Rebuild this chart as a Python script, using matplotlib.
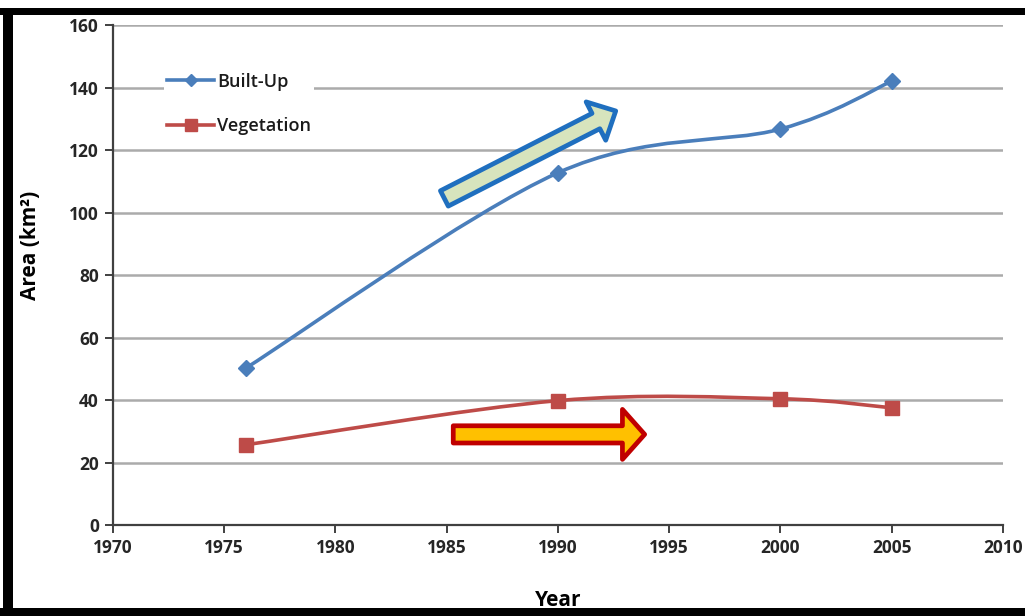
import matplotlib
matplotlib.use("Agg")
import matplotlib.pyplot as plt
import numpy as np
from matplotlib.path import Path
from matplotlib.patches import PathPatch, Rectangle
from matplotlib.lines import Line2D

plt.rcParams['font.family'] = ['Open Sans', 'DejaVu Sans']

years = [1976, 1990, 2000, 2005]
built_up = [50.3, 112.7, 126.7, 142.0]
vegetation = [25.7, 39.8, 40.4, 37.5]

x_ticks = [1970, 1975, 1980, 1985, 1990, 1995, 2000, 2005, 2010]
y_ticks = [0, 20, 40, 60, 80, 100, 120, 140, 160]

blue = '#4a7ebb'
red = '#be4b48'


def smooth_path(xs, ys):
    """Bezier path through the points, using Catmull-Rom style control points."""
    pts = np.column_stack([xs, ys]).astype(float)
    n = len(pts)
    verts = [pts[0]]
    codes = [Path.MOVETO]
    for i in range(n - 1):
        p0 = pts[i - 1] if i > 0 else pts[i]
        p1 = pts[i]
        p2 = pts[i + 1]
        p3 = pts[i + 2] if i + 2 < n else pts[i + 1]
        c1 = p1 + (p2 - p0) / 6.0
        c2 = p2 - (p3 - p1) / 6.0
        verts += [c1, c2, p2]
        codes += [Path.CURVE4] * 3
    return Path(verts, codes)


fig = plt.figure(figsize=(10.25, 6.16), dpi=100)
ax = fig.add_axes([0.110, 0.1477, 0.8685, 0.8117])

ax.set_xlim(1970, 2010)
ax.set_ylim(0, 160)
ax.set_xticks(x_ticks)
ax.set_yticks(y_ticks)

ax.yaxis.grid(True, color='#ababab', linewidth=1.8)
ax.set_axisbelow(True)
for side in ('top', 'right'):
    ax.spines[side].set_visible(False)
for side in ('left', 'bottom'):
    ax.spines[side].set_color('#404040')
    ax.spines[side].set_linewidth(1.6)
ax.tick_params(axis='both', direction='out', length=6, width=1.4, color='#404040',
               labelsize=12.5, pad=4)
for lab in ax.get_xticklabels() + ax.get_yticklabels():
    lab.set_fontweight('bold')
    lab.set_color('#262626')

for vals, col, mk, ms in ((built_up, blue, 'D', 8), (vegetation, red, 's', 10)):
    ax.add_patch(PathPatch(smooth_path(years, vals), fill=False, edgecolor=col,
                           linewidth=2.6, zorder=3))
    ax.plot(years, vals, linestyle='none', marker=mk, markersize=ms,
            color=col, zorder=4)

# trend arrows
ax.annotate('', xy=(1992.6, 132.5), xytext=(1984.9, 104.5),
            arrowprops=dict(arrowstyle='simple,head_length=0.8,head_width=1.55,tail_width=0.62',
                            mutation_scale=20, fc='#d7e4bd', ec='#1f6fbf', lw=3.4,
                            shrinkA=0, shrinkB=0), zorder=5)
ax.annotate('', xy=(1993.9, 29.0), xytext=(1985.3, 29.0),
            arrowprops=dict(arrowstyle='simple,head_length=0.8,head_width=1.8,tail_width=0.62',
                            mutation_scale=20, fc='#ffc000', ec='#c00000', lw=3.4,
                            shrinkA=0, shrinkB=0), zorder=5)

handles = [Line2D([], [], color=blue, marker='D', markersize=6, linewidth=2.6),
           Line2D([], [], color=red, marker='s', markersize=8, linewidth=2.6)]
leg = ax.legend(handles, ['Built-Up', 'Vegetation'], loc='upper left',
                bbox_to_anchor=(0.047, 0.93), frameon=True, framealpha=1,
                edgecolor='none', fontsize=13, handlelength=2.6,
                handletextpad=0.15, labelspacing=1.45, borderpad=0.2)
for t in leg.get_texts():
    t.set_color('#1a1a1a')
    t.set_fontweight('semibold')

ax.set_ylabel('Area (km²)', fontsize=15, fontweight='bold')
ax.yaxis.set_label_coords(-0.081, 0.56)
ax.set_xlabel('Year', fontsize=15, fontweight='bold')
ax.xaxis.set_label_coords(0.5, -0.13)

# black frame around the figure
W, H = 1025, 616
fig.patches.append(Rectangle((0, 1 - 15 / H), 1, 7 / H, transform=fig.transFigure,
                             facecolor='black', edgecolor='none', zorder=10))
fig.patches.append(Rectangle((3 / W, 0), 10 / W, 1 - 8 / H, transform=fig.transFigure,
                             facecolor='black', edgecolor='none', zorder=10))
fig.patches.append(Rectangle((0, 0), 1, 8 / H, transform=fig.transFigure,
                             facecolor='black', edgecolor='none', zorder=10))

fig.savefig('out.png', dpi=100)
